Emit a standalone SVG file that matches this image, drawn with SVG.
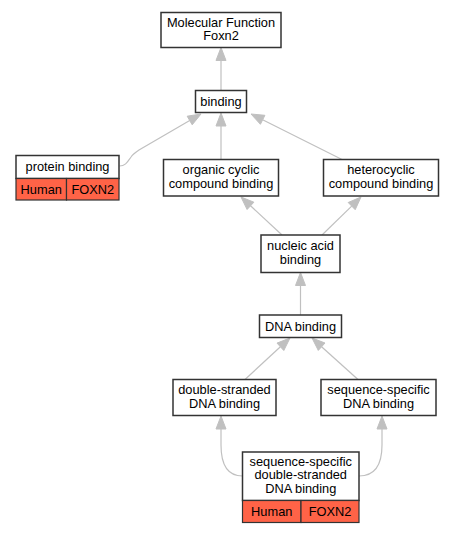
<svg xmlns="http://www.w3.org/2000/svg" width="455" height="533" viewBox="0 0 455 533">
<style>
.box{fill:#ffffff;stroke:#333333;stroke-width:1.5}
.red{fill:#ff6347;stroke:#333333;stroke-width:1.2}
.t{font-family:"Liberation Sans",Arial,sans-serif;font-size:12.8px;fill:#000000;text-anchor:middle}
.e{fill:none;stroke:#c0c0c0;stroke-width:1.2}
.a{fill:#c0c0c0;stroke:#c0c0c0;stroke-width:1}
</style>
<rect width="455" height="533" fill="#ffffff"/>
<g id="connectors">
<line class="e" x1="221" y1="90" x2="221" y2="60"/>
<polygon class="a" points="221,47.5 216,60.5 226,60.5"/>
<line class="e" x1="221" y1="159.5" x2="221" y2="126"/>
<polygon class="a" points="221,113 216,126 226,126"/>
<line class="e" x1="343" y1="160" x2="262.6" y2="119.8"/>
<polygon class="a" points="251,114 264.9,115.3 260.4,124.3"/>
<path class="e" d="M119.5,166 C126,166 128,161 131,157 C133,154 136,152 139,150 L189.7,120.5"/>
<polygon class="a" points="201,114 187.2,116.2 192.2,124.8"/>
<line class="e" x1="282" y1="235" x2="250.5" y2="205.8"/>
<polygon class="a" points="241,197 253.9,202.2 247.1,209.5"/>
<line class="e" x1="322" y1="235" x2="351.7" y2="206.1"/>
<polygon class="a" points="361,197 348.2,202.5 355.2,209.7"/>
<line class="e" x1="300.5" y1="315" x2="300.5" y2="285.5"/>
<polygon class="a" points="300.5,272.5 295.5,285.5 305.5,285.5"/>
<line class="e" x1="245" y1="379.5" x2="280.4" y2="346.8"/>
<polygon class="a" points="290,338 277,343.1 283.8,350.5"/>
<line class="e" x1="358" y1="379.5" x2="321.6" y2="346.7"/>
<polygon class="a" points="312,338 325,343 318.3,350.4"/>
<path class="e" d="M242.5,476 C230,476 221,468 221,445 L221,429"/>
<polygon class="a" points="221,416 216,429 226,429"/>
<path class="e" d="M359,476 C372,476 382,468 382,445 L382,429"/>
<polygon class="a" points="382,416 377,429 387,429"/>
</g>
<g id="mf">
<rect class="box" x="161" y="12.5" width="120" height="35"/>
<text class="t" x="221" y="26.5">Molecular Function</text>
<text class="t" x="221" y="40">Foxn2</text>
</g>
<g id="binding">
<rect class="box" x="195.5" y="90.5" width="51" height="22"/>
<text class="t" x="221" y="106">binding</text>
</g>
<g id="protein-binding">
<rect class="box" x="16" y="155.5" width="103" height="23"/>
<text class="t" x="67.5" y="171">protein binding</text>
<rect class="red" x="16" y="178.5" width="50.5" height="21.5"/>
<rect class="red" x="66.5" y="178.5" width="52.5" height="21.5"/>
<text class="t" x="41.25" y="193.5">Human</text>
<text class="t" x="92.75" y="193.5">FOXN2</text>
</g>
<g id="organic-cyclic">
<rect class="box" x="163.5" y="159.5" width="115" height="36.5"/>
<text class="t" x="221" y="174">organic cyclic</text>
<text class="t" x="221" y="187.5">compound binding</text>
</g>
<g id="heterocyclic">
<rect class="box" x="323.5" y="159.5" width="115" height="36.5"/>
<text class="t" x="381" y="174">heterocyclic</text>
<text class="t" x="381" y="187.5">compound binding</text>
</g>
<g id="nucleic-acid">
<rect class="box" x="261" y="235" width="79" height="37.5"/>
<text class="t" x="300.5" y="250">nucleic acid</text>
<text class="t" x="300.5" y="263.5">binding</text>
</g>
<g id="dna-binding">
<rect class="box" x="259.5" y="315" width="82" height="22.5"/>
<text class="t" x="300.5" y="330.5">DNA binding</text>
</g>
<g id="double-stranded">
<rect class="box" x="173" y="379.5" width="103" height="36"/>
<text class="t" x="224.5" y="394">double-stranded</text>
<text class="t" x="224.5" y="407.5">DNA binding</text>
</g>
<g id="sequence-specific">
<rect class="box" x="321" y="379.5" width="115" height="36"/>
<text class="t" x="378.5" y="394">sequence-specific</text>
<text class="t" x="378.5" y="407.5">DNA binding</text>
</g>
<g id="ss-ds-dna">
<rect class="box" x="242.5" y="452" width="116.5" height="48.5"/>
<text class="t" x="300.75" y="465.5">sequence-specific</text>
<text class="t" x="300.75" y="479">double-stranded</text>
<text class="t" x="300.75" y="492.5">DNA binding</text>
<rect class="red" x="242.5" y="500.5" width="58.5" height="22"/>
<rect class="red" x="301" y="500.5" width="58" height="22"/>
<text class="t" x="271.75" y="515.5">Human</text>
<text class="t" x="330" y="515.5">FOXN2</text>
</g>
</svg>
